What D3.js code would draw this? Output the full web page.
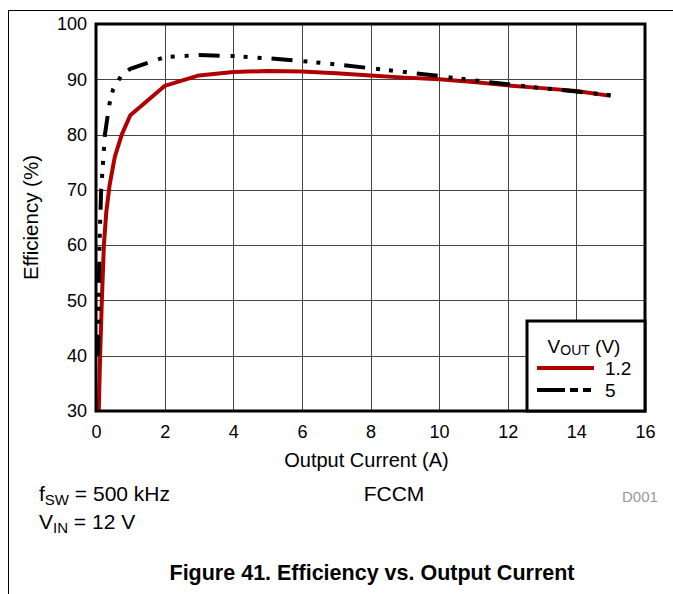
<!DOCTYPE html>
<html>
<head>
<meta charset="utf-8">
<script src="https://cdn.jsdelivr.net/npm/d3@7"></script>
<style>
  html, body { margin: 0; padding: 0; background: #fff; }
  svg { display: block; font-family: "Liberation Sans", Arial, sans-serif; }
</style>
</head>
<body>
<svg id="chart" width="673" height="594"></svg>
<script>
// ---- data ----
const xTicks = [0, 2, 4, 6, 8, 10, 12, 14, 16];
const yTicks = [30, 40, 50, 60, 70, 80, 90, 100];
const seriesNames = ["1.2", "5"];
const current12 = [0.08, 0.12, 0.17, 0.23, 0.3, 0.4, 0.55, 0.75, 1, 2, 3, 4, 5, 6, 7, 8, 9, 10, 11, 12, 13, 14, 15];
const eff12 =     [30, 40, 50, 60, 66, 71, 76, 80, 83.5, 88.8, 90.7, 91.3, 91.5, 91.4, 91.1, 90.7, 90.3, 90.0, 89.5, 88.9, 88.4, 87.9, 87.0];
const current5 = [0.06, 0.08, 0.1, 0.15, 0.26, 0.39, 0.5, 0.75, 1, 2, 3, 4, 5, 6, 7, 8, 9, 10, 11, 12, 13, 14, 15];
const eff5 =     [40, 50, 60, 70, 80, 85.5, 88.2, 90.8, 91.9, 94.0, 94.4, 94.2, 93.8, 93.3, 92.7, 92.0, 91.3, 90.6, 89.8, 89.1, 88.4, 87.8, 87.1];

const svg = d3.select("#chart");
const L = 96, R = 645, T = 24, B = 411;
const x = d3.scaleLinear().domain([0, 16]).range([L, R]);
const y = d3.scaleLinear().domain([30, 100]).range([B, T]);
const FONT = "Liberation Sans, Arial, sans-serif";

// outer frame
svg.append("line").attr("x1", 8).attr("x2", 673).attr("y1", 10.5).attr("y2", 10.5).attr("stroke", "#000").attr("stroke-width", 1);
svg.append("line").attr("x1", 8.5).attr("x2", 8.5).attr("y1", 10).attr("y2", 594).attr("stroke", "#000").attr("stroke-width", 1);

// grid
const g = svg.append("g");
g.selectAll(".vg").data(xTicks.slice(1, -1)).join("line")
  .attr("x1", d => Math.round(x(d)) + 0.5).attr("x2", d => Math.round(x(d)) + 0.5)
  .attr("y1", T).attr("y2", B).attr("stroke", "#444").attr("stroke-width", 1);
g.selectAll(".hg").data(yTicks.slice(1, -1)).join("line")
  .attr("y1", d => Math.round(y(d)) + 0.5).attr("y2", d => Math.round(y(d)) + 0.5)
  .attr("x1", L).attr("x2", R).attr("stroke", "#444").attr("stroke-width", 1);

// axes (labels only)
const xAxis = svg.append("g").attr("transform", `translate(0,${B})`)
  .call(d3.axisBottom(x).tickValues(xTicks).tickSize(0).tickPadding(14));
xAxis.select(".domain").remove();
xAxis.selectAll("text").attr("font-size", 18).attr("font-family", FONT).attr("fill", "#000");
const yAxis = svg.append("g").attr("transform", `translate(${L},0)`)
  .call(d3.axisLeft(y).tickValues(yTicks).tickSize(0).tickPadding(9));
yAxis.select(".domain").remove();
yAxis.selectAll("text").attr("font-size", 18).attr("font-family", FONT).attr("fill", "#000");

// lines
const clipId = "clip";
svg.append("clipPath").attr("id", clipId).append("rect").attr("x", L).attr("y", T).attr("width", R - L).attr("height", B - T);
const line = d3.line().x(d => x(d[0])).y(d => y(d[1])).curve(d3.curveLinear);
const d12 = current12.map((c, i) => [c, eff12[i]]);
const d5 = current5.map((c, i) => [c, eff5[i]]);
svg.append("path").datum(d12).attr("d", line).attr("fill", "none")
  .attr("stroke", "#b00000").attr("stroke-width", 4).attr("stroke-linejoin", "round").attr("clip-path", `url(#${clipId})`);
svg.append("path").datum(d5).attr("d", line).attr("fill", "none")
  .attr("stroke", "#000").attr("stroke-width", 4)
  .attr("stroke-dasharray", "21,11,4,9,4,10,4,10").attr("clip-path", `url(#${clipId})`);

// plot border
svg.append("rect").attr("x", L).attr("y", T).attr("width", R - L).attr("height", B - T)
  .attr("fill", "none").attr("stroke", "#000").attr("stroke-width", 3);

// legend
const lg = svg.append("g");
lg.append("rect").attr("x", 527).attr("y", 321).attr("width", R - 527).attr("height", B - 321)
  .attr("fill", "#fff").attr("stroke", "#000").attr("stroke-width", 3);
const lt = lg.append("text").attr("x", 584).attr("y", 353).attr("text-anchor", "middle").attr("font-size", 19);
lt.append("tspan").text("V");
lt.append("tspan").text("OUT").attr("font-size", 14).attr("dy", 2);
lt.append("tspan").text(" (V)").attr("dy", -2);
const legendRows = [
  { name: seriesNames[0], color: "#b00000", dash: null, yy: 368 },
  { name: seriesNames[1], color: "#000", dash: "28,5,8,5,8", yy: 390 }
];
legendRows.forEach(r => {
  lg.append("line").attr("x1", 537).attr("x2", 594).attr("y1", r.yy).attr("y2", r.yy)
    .attr("stroke", r.color).attr("stroke-width", 4).attr("stroke-dasharray", r.dash);
  lg.append("text").attr("x", 605).attr("y", r.yy + 7).attr("font-size", 19).text(r.name);
});

// axis titles
svg.append("text").attr("x", (L + R) / 2 - 4).attr("y", 467).attr("text-anchor", "middle").attr("font-size", 20).text("Output Current (A)");
svg.append("text").attr("transform", `translate(38,${(T + B) / 2}) rotate(-90)`).attr("text-anchor", "middle").attr("font-size", 20.5).text("Efficiency (%)");

// D001
svg.append("text").attr("x", 622).attr("y", 502).attr("font-size", 15).attr("fill", "#999").text("D001");

// annotations
const f = svg.append("text").attr("x", 39).attr("y", 501).attr("font-size", 21);
f.append("tspan").text("f");
f.append("tspan").text("SW").attr("font-size", 15).attr("dy", 4);
f.append("tspan").text(" = 500 kHz").attr("dy", -4);
const v = svg.append("text").attr("x", 39).attr("y", 529).attr("font-size", 21);
v.append("tspan").text("V");
v.append("tspan").text("IN").attr("font-size", 15).attr("dy", 4);
v.append("tspan").text(" = 12 V").attr("dy", -4);
svg.append("text").attr("x", 394).attr("y", 501).attr("text-anchor", "middle").attr("font-size", 21).text("FCCM");

// title
svg.append("text").attr("x", 372).attr("y", 580).attr("text-anchor", "middle").attr("font-size", 21.5).attr("font-weight", "bold").text("Figure 41. Efficiency vs. Output Current");
</script>
</body>
</html>
